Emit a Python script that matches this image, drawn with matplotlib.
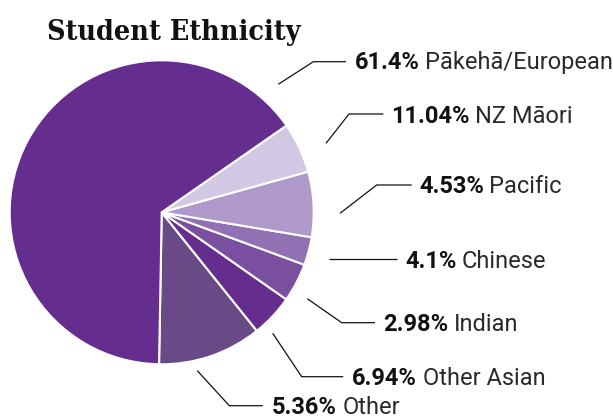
import matplotlib
matplotlib.use("Agg")
import matplotlib.pyplot as plt

# ---- data ----
# legend labels as printed (top to bottom)
label_names = ["Pākehā/European", "NZ Māori", "Pacific", "Chinese", "Indian", "Other Asian", "Other"]
label_pcts = ["61.4%", "11.04%", "4.53%", "4.1%", "2.98%", "6.94%", "5.36%"]

# wedge shares as drawn, counter-clockwise from the bottom (percent of the circle)
wedge_shares = [11.04, 4.53, 4.1, 2.98, 6.94, 5.36, 65.05]
wedge_colors = ["#684a87", "#652d8e", "#7b4fa0", "#9270b4", "#af98ca", "#d3c8e4", "#652d8e"]

# ---- layout (pixel coords, y measured from the top) ----
W, H = 613, 419
center = (161.7, 212.3)
radius = 152
start_angle = -91

# leader lines: list of points; label text start x and baseline y
leaders = [
    [(278.3, 84.3), (313.3, 61.7), (346.0, 61.7)],
    [(326.0, 143.3), (349.0, 114.0), (383.3, 114.0)],
    [(340.0, 213.3), (376.7, 185.0), (411.7, 185.0)],
    [(329.3, 259.3), (396.7, 259.3)],
    [(307.3, 298.7), (341.7, 322.7), (375.0, 322.7)],
    [(272.7, 333.3), (301.7, 376.7), (343.3, 376.7)],
    [(197.3, 370.7), (229.3, 405.7), (262.7, 405.7)],
]
text_pos = [(355.0, 69.0), (390.7, 122.7), (419.0, 193.3), (405.0, 267.7),
            (383.3, 331.0), (352.3, 385.0), (272.0, 413.5)]

def Y(y):
    return H - y

fig = plt.figure(figsize=(W / 100, H / 100), dpi=100)
ax = fig.add_axes([0, 0, 1, 1])

ax.pie([s / 100 for s in wedge_shares], colors=wedge_colors, startangle=start_angle,
       counterclock=True, normalize=False, radius=radius,
       center=(center[0], Y(center[1])), frame=True,
       wedgeprops=dict(edgecolor="white", linewidth=1.5, antialiased=True))

ax.set_xlim(0, W)
ax.set_ylim(0, H)
ax.set_aspect("equal")
ax.axis("off")

for pts in leaders:
    xs = [p[0] for p in pts]
    ys = [Y(p[1]) for p in pts]
    ax.plot(xs, ys, color="#111111", linewidth=0.9, solid_capstyle="butt")

fig.canvas.draw()
renderer = fig.canvas.get_renderer()
fs = 17
for (tx, ty), pct, name in zip(text_pos, label_pcts, label_names):
    t1 = ax.text(tx, Y(ty), pct, fontsize=fs, fontweight="bold", family="Roboto",
                 color="#111111", ha="left", va="baseline")
    bb = t1.get_window_extent(renderer)
    x_disp = bb.x1 + 5.5
    x_data = ax.transData.inverted().transform((x_disp, 0))[0]
    ax.text(x_data, Y(ty), name, fontsize=fs, fontweight="normal", family="Roboto",
            color="#2a2a2a", ha="left", va="baseline")

ax.text(47, Y(40), "Student Ethnicity", fontsize=20.5, fontweight="bold",
        fontstretch="condensed", family="DejaVu Serif", color="#111111",
        ha="left", va="baseline")

fig.savefig("out.png", dpi=100)
